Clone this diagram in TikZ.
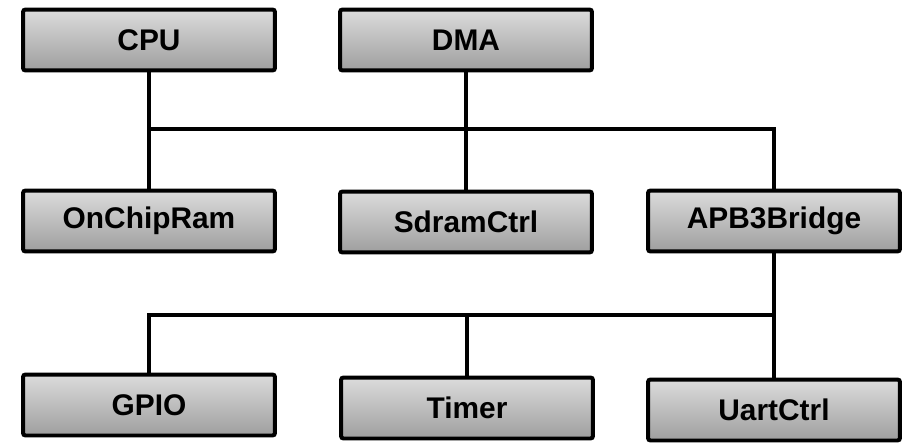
\documentclass[tikz,border=0pt]{standalone}
\usepackage{fontspec}
\setmainfont{Liberation Sans}
\usetikzlibrary{positioning}

\begin{document}
\begin{tikzpicture}[
    x=0.02cm,
    y=-0.02cm,
    block/.style={draw=black, line width=0.08cm, rounded corners=0.05cm,
        top color=black!14, bottom color=black!38,
        minimum width=5.04cm, minimum height=1.22cm,
        font=\fontsize{17}{20}\selectfont\bfseries},
    bus/.style={draw=black, line width=0.08cm}
]
\useasboundingbox (0,0) rectangle (903,443);

% Masters on top, main bus slaves in the middle, APB3 peripherals below.
\node[block] (cpu)    at (149,40)  {CPU};
\node[block] (dma)    at (466,40)  {DMA};

\node[block] (ram)    at (149,221) {OnChipRam};
\node[block] (sdram)  at (466,222) {SdramCtrl};
\node[block] (bridge) at (774,221) {APB3Bridge};

\node[block] (gpio)   at (149,405) {GPIO};
\node[block] (timer)  at (467,408) {Timer};
\node[block] (uart)   at (774,410) {UartCtrl};

\coordinate (mainbus) at (0,129);
\coordinate (apbbus)  at (0,315);

\draw[bus] (cpu) -- (ram);
\draw[bus] (dma) -- (sdram);
\draw[bus] (cpu.south |- mainbus) -| (bridge.north);

\draw[bus] (bridge) -- (uart);
\draw[bus] (bridge.south |- apbbus) -| (gpio.north);
\draw[bus] (timer.north |- apbbus) -- (timer);

\end{tikzpicture}
\end{document}
